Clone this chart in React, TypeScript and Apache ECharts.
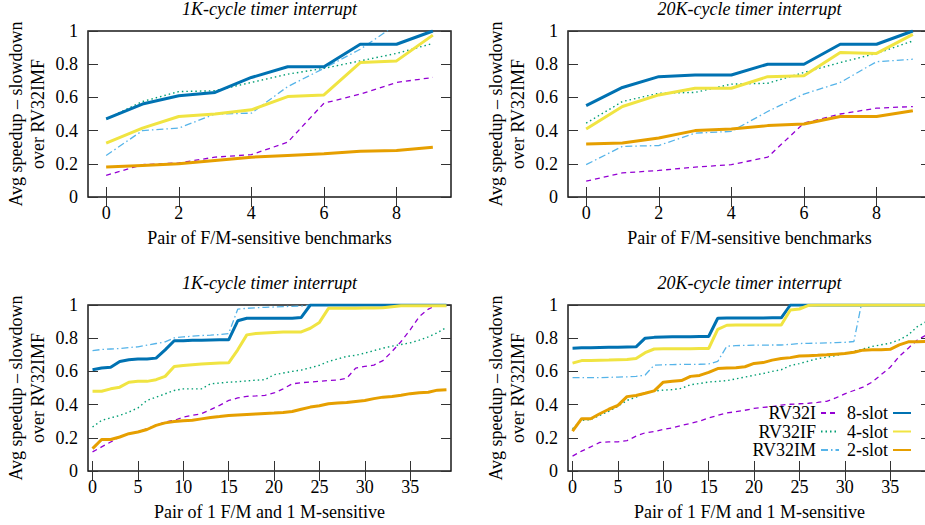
import React, { useEffect, useRef } from "react";
import * as echarts from "echarts";

// ---------- categories ----------
const pairsShort = ["0", "1", "2", "3", "4", "5", "6", "7", "8", "9"];
const pairsLong = Array.from({ length: 40 }, (_, i) => String(i));

// ---------- series names ----------
const seriesNames = ["RV32I", "RV32IF", "RV32IM", "8-slot", "4-slot", "2-slot"];

// ---------- top-left: 1K-cycle, F/M-sensitive benchmarks ----------
const tlRV32I = [0.13, 0.195, 0.205, 0.24, 0.255, 0.33, 0.565, 0.62, 0.69, 0.72];
const tlRV32IF = [0.47, 0.575, 0.635, 0.64, 0.69, 0.74, 0.775, 0.82, 0.865, 0.925];
const tlRV32IM = [0.25, 0.4, 0.415, 0.5, 0.505, 0.665, 0.775, 0.89, 1.04, 1.1];
const tl8slot = [0.47, 0.56, 0.61, 0.63, 0.72, 0.785, 0.785, 0.92, 0.92, 1.0];
const tl4slot = [0.325, 0.415, 0.485, 0.5, 0.525, 0.605, 0.615, 0.81, 0.82, 0.975];
const tl2slot = [0.18, 0.19, 0.2, 0.22, 0.24, 0.25, 0.26, 0.275, 0.28, 0.3];

// ---------- top-right: 20K-cycle, F/M-sensitive benchmarks ----------
const trRV32I = [0.095, 0.145, 0.16, 0.18, 0.195, 0.24, 0.445, 0.5, 0.535, 0.545];
const trRV32IF = [0.445, 0.575, 0.625, 0.63, 0.68, 0.685, 0.75, 0.81, 0.865, 0.94];
const trRV32IM = [0.195, 0.305, 0.31, 0.385, 0.395, 0.515, 0.62, 0.69, 0.815, 0.83];
const tr8slot = [0.55, 0.66, 0.725, 0.735, 0.735, 0.8, 0.8, 0.92, 0.92, 1.0];
const tr4slot = [0.41, 0.545, 0.615, 0.655, 0.655, 0.725, 0.73, 0.87, 0.865, 0.98];
const tr2slot = [0.32, 0.325, 0.355, 0.4, 0.41, 0.43, 0.44, 0.485, 0.485, 0.52];

// ---------- bottom-left: 1K-cycle, pairs of 1 F/M and 1 M-sensitive ----------
const blRV32I = [0.115, 0.145, 0.175, 0.205, 0.225, 0.235, 0.255, 0.275, 0.295, 0.305, 0.325, 0.335, 0.345, 0.37, 0.395, 0.425, 0.44, 0.45, 0.452, 0.456, 0.47, 0.495, 0.525, 0.532, 0.536, 0.54, 0.545, 0.548, 0.558, 0.62, 0.63, 0.638, 0.665, 0.72, 0.78, 0.85, 0.93, 0.975, 1.0, 1.0];
const blRV32IF = [0.265, 0.305, 0.32, 0.335, 0.355, 0.38, 0.425, 0.445, 0.465, 0.485, 0.495, 0.495, 0.495, 0.525, 0.53, 0.535, 0.538, 0.543, 0.547, 0.55, 0.58, 0.59, 0.6, 0.608, 0.622, 0.637, 0.66, 0.675, 0.69, 0.697, 0.71, 0.725, 0.74, 0.752, 0.762, 0.772, 0.788, 0.808, 0.833, 0.865];
const blRV32IM = [0.725, 0.732, 0.735, 0.738, 0.744, 0.748, 0.758, 0.768, 0.778, 0.802, 0.808, 0.812, 0.816, 0.818, 0.822, 0.828, 0.975, 0.98, 0.983, 0.986, 0.988, 0.99, 0.992, 0.993, 1.0, 1.0, 1.0, 1.0, 1.0, 1.0, 1.0, 1.0, 1.0, 1.0, 1.0, 1.0, 1.0, 1.0, 1.0, 1.0];
const bl8slot = [0.61, 0.62, 0.625, 0.66, 0.67, 0.675, 0.675, 0.68, 0.73, 0.785, 0.785, 0.787, 0.788, 0.789, 0.79, 0.79, 0.905, 0.92, 0.92, 0.92, 0.92, 0.92, 0.92, 0.925, 1.0, 1.0, 1.0, 1.0, 1.0, 1.0, 1.0, 1.0, 1.0, 1.0, 1.0, 1.0, 1.0, 1.0, 1.0, 1.0];
const bl4slot = [0.48, 0.48, 0.495, 0.505, 0.535, 0.54, 0.54, 0.55, 0.57, 0.63, 0.635, 0.64, 0.645, 0.648, 0.65, 0.652, 0.73, 0.82, 0.828, 0.832, 0.835, 0.837, 0.838, 0.838, 0.86, 0.895, 0.98, 0.98, 0.98, 0.981, 0.982, 0.982, 0.983, 0.99, 0.995, 0.995, 0.995, 0.995, 0.995, 0.995];
const bl2slot = [0.135, 0.19, 0.19, 0.205, 0.225, 0.235, 0.25, 0.275, 0.29, 0.298, 0.303, 0.306, 0.314, 0.322, 0.328, 0.335, 0.338, 0.341, 0.344, 0.347, 0.349, 0.353, 0.358, 0.372, 0.385, 0.393, 0.405, 0.409, 0.413, 0.419, 0.425, 0.436, 0.445, 0.449, 0.456, 0.466, 0.472, 0.474, 0.487, 0.49];

// ---------- bottom-right: 20K-cycle, pairs of 1 F/M and 1 M-sensitive ----------
const brRV32I = [0.09, 0.12, 0.145, 0.172, 0.175, 0.176, 0.183, 0.21, 0.23, 0.238, 0.25, 0.26, 0.275, 0.287, 0.3, 0.32, 0.335, 0.35, 0.357, 0.366, 0.377, 0.383, 0.388, 0.397, 0.402, 0.405, 0.408, 0.413, 0.42, 0.44, 0.465, 0.485, 0.505, 0.535, 0.58, 0.625, 0.69, 0.74, 0.79, 0.82];
const brRV32IF = [0.255, 0.305, 0.31, 0.335, 0.36, 0.39, 0.425, 0.445, 0.47, 0.482, 0.487, 0.49, 0.498, 0.52, 0.527, 0.536, 0.54, 0.544, 0.555, 0.566, 0.577, 0.587, 0.6, 0.61, 0.635, 0.647, 0.662, 0.677, 0.685, 0.695, 0.71, 0.72, 0.735, 0.75, 0.76, 0.77, 0.79, 0.82, 0.87, 0.9];
const brRV32IM = [0.562, 0.562, 0.562, 0.562, 0.564, 0.566, 0.567, 0.57, 0.578, 0.638, 0.64, 0.641, 0.642, 0.642, 0.643, 0.645, 0.66, 0.752, 0.755, 0.757, 0.758, 0.758, 0.759, 0.759, 0.763, 0.768, 0.769, 0.77, 0.772, 0.773, 0.775, 0.78, 1.05, 1.0, 1.0, 1.0, 1.0, 1.0, 1.0, 1.0];
const br8slot = [0.74, 0.742, 0.743, 0.744, 0.745, 0.746, 0.747, 0.748, 0.8, 0.805, 0.807, 0.808, 0.808, 0.809, 0.81, 0.81, 0.92, 0.922, 0.922, 0.922, 0.922, 0.922, 0.923, 0.923, 1.0, 1.0, 1.0, 1.0, 1.0, 1.0, 1.0, 1.0, 1.0, 1.0, 1.0, 1.0, 1.0, 1.0, 1.0, 1.0];
const br4slot = [0.65, 0.665, 0.665, 0.667, 0.668, 0.67, 0.672, 0.677, 0.713, 0.735, 0.736, 0.736, 0.737, 0.737, 0.738, 0.738, 0.853, 0.878, 0.879, 0.879, 0.879, 0.879, 0.88, 0.88, 0.97, 0.976, 0.998, 1.0, 1.0, 1.0, 1.0, 1.0, 1.0, 1.0, 1.0, 1.0, 1.0, 1.0, 1.0, 1.0];
const br2slot = [0.24, 0.315, 0.315, 0.345, 0.372, 0.395, 0.448, 0.455, 0.468, 0.483, 0.535, 0.54, 0.545, 0.57, 0.576, 0.594, 0.617, 0.62, 0.622, 0.628, 0.648, 0.653, 0.668, 0.678, 0.683, 0.693, 0.695, 0.697, 0.7, 0.704, 0.708, 0.715, 0.728, 0.73, 0.73, 0.733, 0.76, 0.778, 0.779, 0.78];

// ---------- texts ----------
const titleShort = "1K-cycle timer interrupt";
const titleLong = "20K-cycle timer interrupt";
const xNameTop = "Pair of F/M-sensitive benchmarks";
const xNameBottom = "Pair of 1 F/M and 1 M-sensitive";
const yName = "Avg speedup \u2013 slowdown\nover RV32IMF";

const FONT = "'Liberation Serif', 'Times New Roman', serif";

const lineStyles: Record<string, { color: string; width: number; type: any }> = {
  RV32I: { color: "#9400D3", width: 1.3, type: [5, 4] },
  RV32IF: { color: "#009E73", width: 1.4, type: [1.5, 3] },
  RV32IM: { color: "#56B4E9", width: 1.3, type: [7, 3, 1.5, 3] },
  "8-slot": { color: "#0072B2", width: 3, type: "solid" },
  "4-slot": { color: "#F0E442", width: 3, type: "solid" },
  "2-slot": { color: "#E69F00", width: 3, type: "solid" },
};

const panels = [
  { left: 88, top: 31, title: titleShort, xName: xNameTop, cats: pairsShort, step: 2, data: [tlRV32I, tlRV32IF, tlRV32IM, tl8slot, tl4slot, tl2slot] },
  { left: 568, top: 31, title: titleLong, xName: xNameTop, cats: pairsShort, step: 2, data: [trRV32I, trRV32IF, trRV32IM, tr8slot, tr4slot, tr2slot] },
  { left: 88, top: 305, title: titleShort, xName: xNameBottom, cats: pairsLong, step: 5, data: [blRV32I, blRV32IF, blRV32IM, bl8slot, bl4slot, bl2slot] },
  { left: 568, top: 305, title: titleLong, xName: xNameBottom, cats: pairsLong, step: 5, data: [brRV32I, brRV32IF, brRV32IM, br8slot, br4slot, br2slot] },
];
const GRID_W = 363;
const GRID_H = 166;

const tickStyle = { color: "#333", width: 1 };
const labelStyle = { color: "#000", fontSize: 18, fontFamily: FONT };

function buildOption() {
  const grid: any[] = [];
  const xAxis: any[] = [];
  const yAxis: any[] = [];
  const series: any[] = [];
  const title: any[] = [];

  panels.forEach((p, g) => {
    grid.push({
      left: p.left,
      top: p.top,
      width: GRID_W,
      height: GRID_H,
      show: true,
      borderColor: "#1a1a1a",
      borderWidth: 1.5,
      backgroundColor: "transparent",
      containLabel: false,
      outerBoundsMode: "none",
    });
    title.push({
      text: p.title,
      left: p.left + GRID_W / 2,
      top: p.top - 31,
      textAlign: "center",
      padding: 0,
      textStyle: { fontSize: 18, fontStyle: "italic", fontWeight: "normal", fontFamily: FONT, color: "#000" },
    });
    xAxis.push({
      type: "category",
      gridIndex: g,
      data: p.cats,
      boundaryGap: true,
      position: "bottom",
      axisLine: { show: false },
      axisTick: { show: true, inside: true, length: 10, interval: p.step - 1, alignWithLabel: true, lineStyle: tickStyle },
      axisLabel: { show: true, interval: p.step - 1, margin: 7, ...labelStyle },
      splitLine: { show: false },
      name: p.xName,
      nameLocation: "middle",
      nameGap: 32,
      nameTextStyle: { ...labelStyle },
    });
    xAxis.push({
      type: "category",
      gridIndex: g,
      data: p.cats,
      boundaryGap: true,
      position: "top",
      axisLine: { show: false },
      axisTick: { show: true, inside: true, length: 10, interval: p.step - 1, alignWithLabel: true, lineStyle: tickStyle },
      axisLabel: { show: false },
      splitLine: { show: false },
    });
    yAxis.push({
      type: "value",
      gridIndex: g,
      min: 0,
      max: 1,
      interval: 0.2,
      position: "left",
      axisLine: { show: false },
      axisTick: { show: true, inside: true, length: 10, lineStyle: tickStyle },
      axisLabel: { show: true, margin: 10, ...labelStyle },
      splitLine: { show: false },
      name: yName,
      nameLocation: "middle",
      nameRotate: 90,
      nameGap: 39,
      nameTextStyle: { ...labelStyle, lineHeight: 22, align: "center" },
    });
    yAxis.push({
      type: "value",
      gridIndex: g,
      min: 0,
      max: 1,
      interval: 0.2,
      position: "right",
      axisLine: { show: false },
      axisTick: { show: true, inside: true, length: 10, lineStyle: tickStyle },
      axisLabel: { show: false },
      splitLine: { show: false },
    });
    seriesNames.forEach((name, k) => {
      const st = lineStyles[name];
      series.push({
        type: "line",
        name,
        xAxisIndex: g * 2,
        yAxisIndex: g * 2,
        data: p.data[k],
        symbol: "none",
        showSymbol: false,
        clip: true,
        z: k < 3 ? 2 : 3,
        itemStyle: { color: st.color },
        lineStyle: { color: st.color, width: st.width, type: st.type, cap: "butt" },
      });
    });
  });

  const legendBase = {
    orient: "vertical",
    align: "right",
    top: 404,
    padding: 0,
    itemGap: 0.5,
    itemWidth: 18,
    itemHeight: 10,
    selectedMode: false,
    itemStyle: { opacity: 0, borderWidth: 0 },
    textStyle: { color: "#000", fontSize: 18, fontFamily: FONT, lineHeight: 18 },
  };

  return {
    animation: false,
    backgroundColor: "#fff",
    title,
    grid,
    xAxis,
    yAxis,
    series,
    legend: [
      { ...legendBase, data: seriesNames.slice(0, 3), right: 85 },
      { ...legendBase, data: seriesNames.slice(3), right: 13 },
    ],
  };
}

export default function App() {
  const ref = useRef<HTMLDivElement>(null);
  useEffect(() => {
    document.body.style.margin = "0";
    const chart = echarts.init(ref.current!, null, { renderer: "svg" });
    chart.setOption(buildOption() as any);
    return () => chart.dispose();
  }, []);
  return <div ref={ref} style={{ width: 925, height: 525 }} />;
}
